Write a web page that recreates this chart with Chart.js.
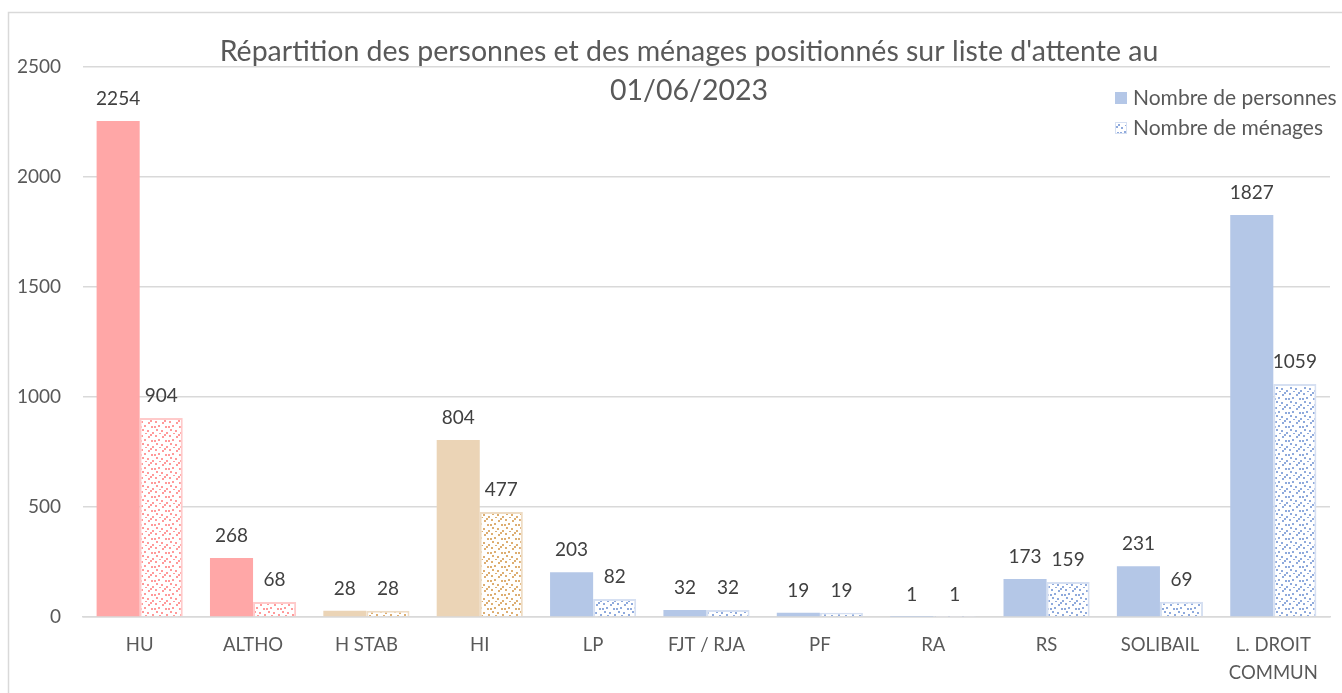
<!DOCTYPE html>
<html>
<head>
<meta charset="utf-8">
<script src="https://cdn.jsdelivr.net/npm/chart.js@4"></script>
<style>
  html, body { margin: 0; padding: 0; background: #fff; }
  #wrap { width: 1342px; height: 693px; position: relative; }
</style>
</head>
<body>
<div id="wrap"><canvas id="chart" width="1342" height="693"></canvas></div>
<script>
// données
const categories = ['HU', 'ALTHO', 'H STAB', 'HI', 'LP', 'FJT / RJA', 'PF', 'RA', 'RS', 'SOLIBAIL', ['L. DROIT', 'COMMUN']];
const personnes = [2254, 268, 28, 804, 203, 32, 19, 1, 173, 231, 1827];
const menages = [904, 68, 28, 477, 82, 32, 19, 1, 159, 69, 1059];
const yTicks = [0, 500, 1000, 1500, 2000, 2500];
const titleLines = ["Répartition des personnes et des ménages positionnés sur liste d'attente au", '01/06/2023'];
const legendLabels = ['Nombre de personnes', 'Nombre de ménages'];

// couleurs par groupe
const groupOf = ['rose', 'rose', 'beige', 'beige', 'bleu', 'bleu', 'bleu', 'bleu', 'bleu', 'bleu', 'bleu'];
const palette = {
    rose:  { fill: '#FFA7A7', border: '#FFCACA', dot: '#FF9A9A' },
    beige: { fill: '#EBD4B6', border: '#EEDCC4', dot: '#DDAE72' },
    bleu:  { fill: '#B4C7E7', border: '#D6E0F2', dot: '#8FAADC' }
};

// motif pointillé
function dotPattern(color) {
    const c = document.createElement('canvas');
    c.width = 14; c.height = 14;
    const g = c.getContext('2d');
    g.fillStyle = '#fff';
    g.fillRect(0, 0, 14, 14);
    g.fillStyle = color;
    const pts = [[1,1],[8,2],[4,5],[11,6],[2,9],[7,10],[12,12],[5,13],[10,0],[0,6]];
    pts.forEach(p => g.fillRect(p[0], p[1], 2, 2));
    return g.createPattern(c, 'repeat');
}

const ctx = document.getElementById('chart').getContext('2d');
const patterns = {};
Object.keys(palette).forEach(k => patterns[k] = dotPattern(palette[k].dot));

const FONT = 'Lato, "Open Sans", sans-serif';
const GREY = '#595959';

const decor = {
    id: 'decor',
    beforeDraw(chart) {
        const c = chart.ctx;
        c.save();
        c.strokeStyle = '#D9D9D9';
        c.lineWidth = 1.5;
        c.strokeRect(8.5, 12.5, 1400, 700);
        c.restore();
    },
    afterDraw(chart) {
        const c = chart.ctx;
        c.save();
        // titre
        c.fillStyle = GREY;
        c.font = '28.5px ' + FONT;
        c.textAlign = 'center';
        c.textBaseline = 'middle';
        c.fillText(titleLines[0], 689, 52);
        c.fillText(titleLines[1], 689, 91);
        // étiquettes de données
        c.font = '19px ' + FONT;
        c.fillStyle = '#404040';
        c.textBaseline = 'alphabetic';
        chart.data.datasets.forEach((ds, i) => {
            chart.getDatasetMeta(i).data.forEach((bar, j) => {
                c.fillText(ds.data[j], bar.x, bar.y - 16);
            });
        });
        // légende
        c.font = '21px ' + FONT;
        c.textAlign = 'left';
        c.textBaseline = 'middle';
        c.fillStyle = palette.bleu.fill;
        c.fillRect(1115, 92, 12, 12);
        c.fillStyle = patterns.bleu;
        c.fillRect(1115, 122, 12, 12);
        c.strokeStyle = palette.bleu.border;
        c.lineWidth = 1;
        c.strokeRect(1115.5, 122.5, 11, 11);
        c.fillStyle = GREY;
        c.fillText(legendLabels[0], 1133, 98);
        c.fillText(legendLabels[1], 1133, 128);
        c.restore();
    }
};

new Chart(ctx, {
    type: 'bar',
    data: {
        labels: categories,
        datasets: [{
            label: legendLabels[0],
            data: personnes,
            backgroundColor: groupOf.map(g => palette[g].fill),
            borderWidth: 0
        }, {
            label: legendLabels[1],
            data: menages,
            backgroundColor: groupOf.map(g => patterns[g]),
            borderColor: groupOf.map(g => palette[g].border),
            borderWidth: 2
        }]
    },
    options: {
        responsive: false,
        animation: false,
        layout: { padding: { left: 8, right: 12, top: 67, bottom: 0 } },
        datasets: { bar: { categoryPercentage: 0.76, barPercentage: 1 } },
        plugins: {
            legend: { display: false },
            title: { display: false },
            tooltip: { enabled: false }
        },
        scales: {
            x: {
                grid: { display: false },
                border: { color: '#D9D9D9', width: 1.5 },
                ticks: { color: GREY, font: { family: FONT, size: 18.5, lineHeight: 1.5 }, padding: 6, maxRotation: 0, autoSkip: false },
                afterFit(s) { s.height = 76; }
            },
            y: {
                min: 0,
                max: 2500,
                afterBuildTicks(s) { s.ticks = yTicks.map(v => ({ value: v })); },
                grid: { color: '#D9D9D9', lineWidth: 1.5, drawTicks: false },
                border: { display: false },
                ticks: { color: GREY, font: { family: FONT, size: 19 }, padding: 22, callback: v => String(v) },
                afterFit(s) { s.width = 75; }
            }
        }
    },
    plugins: [decor]
});
</script>
</body>
</html>
